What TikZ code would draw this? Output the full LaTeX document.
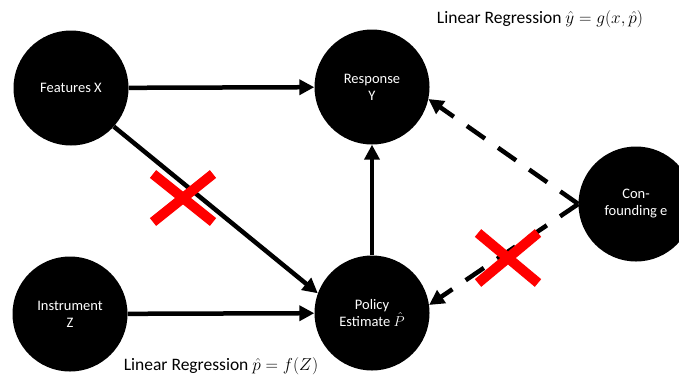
\documentclass[tikz,border=0pt]{standalone}
\usepackage{fontspec}
\setmainfont{Carlito}
\usetikzlibrary{arrows.meta,calc}
\begin{document}
\begin{tikzpicture}[x=1pt,y=-1pt,
  var/.style={circle,fill=black,text=white,minimum size=115pt,inner sep=0pt,align=center,font=\fontsize{14.5}{17}\selectfont},
  edge/.style={line width=4.5pt,-{Triangle[length=15pt,width=15pt]}},
  dashedge/.style={edge,dash pattern=on 22pt off 16pt},
  cross/.style={red,line width=10pt},
  lbl/.style={font=\fontsize{17.5}{20}\selectfont}]
\useasboundingbox (0,0) rectangle (679,378);
\clip (0,0) rectangle (679,378);
\node[var] (fx) at (71,88) {Features X};
\node[var] (ry) at (372,87) {Response\\Y};
\node[var] (pe) at (372,313) {Policy\\Estimate $\hat{P}$};
\node[var] (iz) at (70,314) {Instrument\\Z};
\node[var] (ce) at (636,204) {Con-\\founding e};
\draw[edge] (fx) -- (ry);
\draw[edge] (iz) -- (pe);
\draw[edge] (pe) -- (ry);
\draw[edge] (fx.-42) -- (pe.160);
\draw[dashedge] (ce.west) -- (ry.-12);
\draw[dashedge] (ce.west) -- (pe.8);
\coordinate (c1) at (183,198);
\coordinate (c2) at (508,258);
\draw[cross] ($(c1)+(-30,-24)$) -- ($(c1)+(30,24)$);
\draw[cross] ($(c1)+(30,-24)$) -- ($(c1)+(-30,24)$);
\draw[cross] ($(c2)+(-30,-25)$) -- ($(c2)+(30,25)$);
\draw[cross] ($(c2)+(30,-25)$) -- ($(c2)+(-30,25)$);
\node[lbl] (l1) at (540,19) {Linear Regression $\hat{y}=g(x,\hat{p})$};
\node[lbl] (l2) at (221,366) {Linear Regression $\hat{p}=f(Z)$};
\end{tikzpicture}
\end{document}
